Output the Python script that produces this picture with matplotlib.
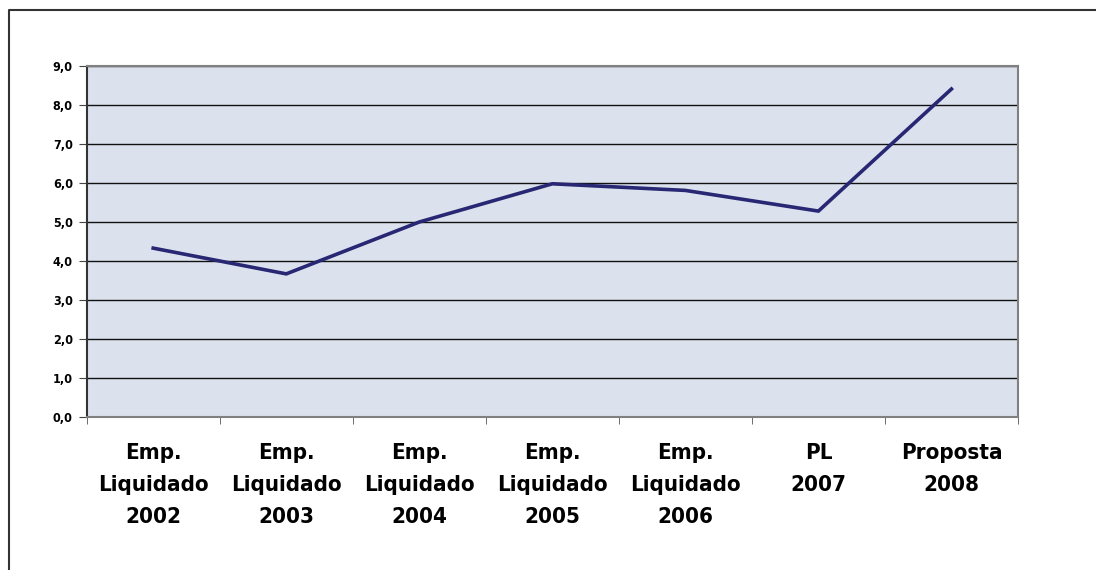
import numpy as np
import matplotlib.pyplot as plt
from matplotlib.lines import Line2D

categories = ['Emp.\nLiquidado\n2002', 'Emp.\nLiquidado\n2003', 'Emp.\nLiquidado\n2004',
              'Emp.\nLiquidado\n2005', 'Emp.\nLiquidado\n2006', 'PL\n2007', 'Proposta\n2008']
values = [4.33, 3.67, 5.0, 5.98, 5.81, 5.28, 8.41]
yticks = [0, 1, 2, 3, 4, 5, 6, 7, 8, 9]
ytick_labels = ['0,0', '1,0', '2,0', '3,0', '4,0', '5,0', '6,0', '7,0', '8,0', '9,0']

font = 'DejaVu Sans'

fig = plt.figure(figsize=(10.96, 5.70), dpi=100)
ax = fig.add_axes([0.0791, 0.2684, 0.8497, 0.6158])
ax.set_facecolor('#dce1ee')

x = np.arange(len(values))
ax.plot(x, values, color='#272773', lw=2.6, solid_joinstyle='miter', zorder=3)

ax.set_xlim(-0.5, len(values) - 0.5)
ax.set_ylim(0, 9)
ax.set_yticks(yticks)
ax.set_yticklabels(ytick_labels, fontfamily=font, fontstretch='condensed',
                   fontweight='bold', fontsize=9)
ax.yaxis.grid(True, color='#111111', lw=1)
ax.set_axisbelow(True)

ax.set_xticks(x)
ax.set_xticklabels(categories, fontfamily=font, fontstretch='condensed',
                   fontweight='bold', fontsize=16, linespacing=1.75)
ax.set_xticks(np.arange(len(values) + 1) - 0.5, minor=True)
ax.tick_params(axis='x', which='major', length=0, pad=19)
ax.tick_params(axis='x', which='minor', length=5, color='#555555', direction='out')
ax.tick_params(axis='y', length=6, color='#444444', pad=4)

for s in ['top', 'right', 'bottom']:
    ax.spines[s].set_color('#808080')
    ax.spines[s].set_linewidth(1.5)
ax.spines['left'].set_color('#333333')
ax.spines['left'].set_linewidth(1.5)

# outer frame (left and top only)
fig.add_artist(Line2D([9 / 1096, 9 / 1096, 1.0], [0.0, 1 - 10 / 570, 1 - 10 / 570],
                      transform=fig.transFigure, color='#333333', lw=1.5))

fig.savefig('out.png', dpi=100)
